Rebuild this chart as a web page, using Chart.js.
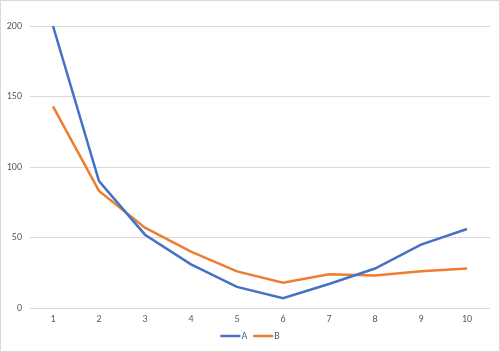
<!DOCTYPE html>
<html>
<head>
<meta charset="utf-8">
<script src="https://cdn.jsdelivr.net/npm/chart.js@4"></script>
<style>
  body { margin: 0; background: #fff; }
  #wrap { width: 500px; height: 352px; box-sizing: border-box; border: 1px solid #d9d9d9; }
</style>
</head>
<body>
<div id="wrap"><canvas id="lineChart" width="498" height="350"></canvas></div>
<script>
// values
const categories = ['1', '2', '3', '4', '5', '6', '7', '8', '9', '10'];
const seriesA = [200, 90, 52, 31, 15, 7, 17, 28, 45, 56];
const seriesB = [143, 83, 57, 40, 26, 18, 24, 23, 26, 28];

const ctx = document.getElementById('lineChart').getContext('2d');
const font = { family: 'Calibri, Carlito, "Liberation Sans", sans-serif', size: 10 };

// Excel-like legend: short line right next to the label
const lineLegend = {
  id: 'lineLegend',
  afterDraw(chart) {
    const c = chart.ctx;
    const sets = chart.data.datasets;
    c.save();
    c.font = font.size + 'px ' + font.family;
    c.textBaseline = 'middle';
    const lineW = 20, gap = 1, itemGap = 6;
    let total = 0;
    sets.forEach((ds, i) => {
      total += lineW + gap + c.measureText(ds.label).width + (i ? itemGap : 0);
    });
    let x = (chart.width - total) / 2;
    const y = 335;
    sets.forEach((ds) => {
      c.strokeStyle = ds.borderColor;
      c.lineWidth = ds.borderWidth;
      c.beginPath();
      c.moveTo(x, y);
      c.lineTo(x + lineW, y);
      c.stroke();
      x += lineW + gap;
      c.fillStyle = '#595959';
      c.fillText(ds.label, x, y);
      x += c.measureText(ds.label).width + itemGap;
    });
    c.restore();
  }
};

const lineChart = new Chart(ctx, {
  type: 'line',
  data: {
    labels: categories,
    datasets: [{
      label: 'A',
      data: seriesA,
      borderColor: '#4472c4',
      backgroundColor: '#4472c4',
      borderWidth: 2.5,
      pointRadius: 0,
      tension: 0
    }, {
      label: 'B',
      data: seriesB,
      borderColor: '#ed7d31',
      backgroundColor: '#ed7d31',
      borderWidth: 2.5,
      pointRadius: 0,
      tension: 0
    }]
  },
  options: {
    responsive: false,
    animation: false,
    layout: { padding: { top: 25, right: 9, bottom: 21, left: 0 } },
    plugins: {
      tooltip: { enabled: false },
      legend: { display: false }
    },
    scales: {
      x: {
        offset: true,
        grid: { display: false, drawTicks: false },
        border: { display: false },
        ticks: { color: '#595959', font: font, padding: 5 }
      },
      y: {
        min: 0,
        max: 200,
        afterFit: function(axis) { axis.width = 29; },
        grid: { color: '#d9d9d9', drawTicks: false },
        border: { display: false },
        ticks: { stepSize: 50, color: '#595959', font: font, padding: 8 }
      }
    }
  },
  plugins: [lineLegend]
});
</script>
</body>
</html>
